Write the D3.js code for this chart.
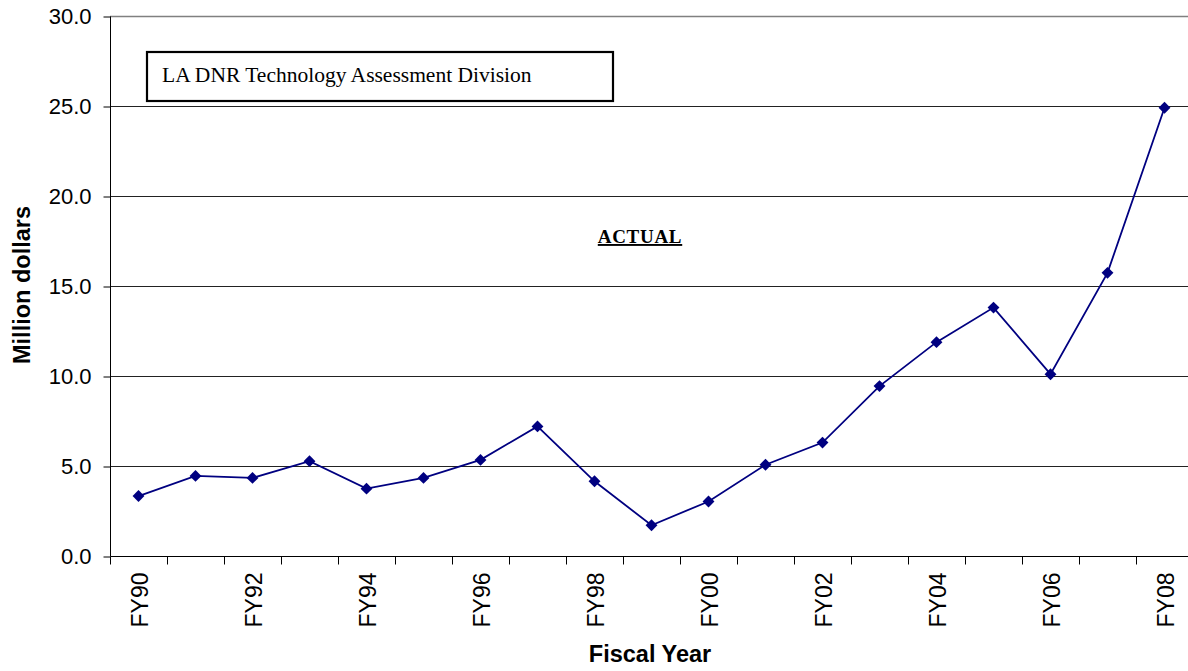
<!DOCTYPE html>
<html><head><meta charset="utf-8">
<script src="https://cdn.jsdelivr.net/npm/d3@7"></script>
<style>body{margin:0;background:#fff}svg{display:block}</style>
</head><body>
<svg id="c" width="1188" height="671"></svg>
<script>
const categories = ["FY90","FY91","FY92","FY93","FY94","FY95","FY96","FY97","FY98","FY99","FY00","FY01","FY02","FY03","FY04","FY05","FY06","FY07","FY08"];
const values = [3.33,4.45,4.34,5.27,3.74,4.34,5.34,7.2,4.15,1.71,3.03,5.07,6.3,9.44,11.88,13.8,10.1,15.73,24.9];
const yTicks = [0,5,10,15,20,25,30];
const labeledCategories = ["FY90","FY92","FY94","FY96","FY98","FY00","FY02","FY04","FY06","FY08"];

(function(){
const svg = d3.select("#c");
const pL = 110, pR = 1193, pT = 16, pB = 556;
const x = d3.scaleBand().domain(categories).range([pL, pR]);
const y = d3.scaleLinear().domain([0, 30]).range([pB, pT]);
const sans = "Liberation Sans, Arial, sans-serif";
const serif = "Liberation Serif, Times New Roman, serif";

// gridlines
svg.append("g").selectAll("line").data(yTicks.filter(d => d > 0)).join("line")
  .attr("x1", pL).attr("x2", pR)
  .attr("y1", d => y(d) + 0.5).attr("y2", d => y(d) + 0.5)
  .attr("stroke", d => d === 30 ? "#808080" : "#222").attr("stroke-width", d => d === 30 ? 1.5 : 1);

// y axis
const ya = svg.append("g").attr("transform", `translate(${pL + 0.5},0.5)`)
  .call(d3.axisLeft(y).tickValues(yTicks).tickFormat(d3.format(".1f")).tickSize(7).tickPadding(12));
ya.select(".domain").attr("stroke", "#000").attr("d", `M0,${pT}V${pB}`);
ya.selectAll(".tick line").attr("stroke", "#000");
ya.selectAll("text").attr("font-family", sans).attr("font-size", 22).attr("fill", "#000");

// x axis
const xa = svg.append("g").attr("transform", `translate(0.5,${pB + 0.5})`);
xa.append("line").attr("x1", pL).attr("x2", pR).attr("y1", 0).attr("y2", 0).attr("stroke", "#000");
const bounds = categories.map(c => Math.round(x(c))).concat([Math.round(x(categories[categories.length-1]) + x.bandwidth())]);
xa.selectAll(".tk").data(bounds).join("line").attr("class","tk")
  .attr("x1", d => d).attr("x2", d => d).attr("y1", 0).attr("y2", 8).attr("stroke", "#000");
xa.selectAll(".lbl").data(labeledCategories).join("text").attr("class","lbl")
  .attr("transform", d => `translate(${x(d) + x.bandwidth()/2 + 8.5},${16}) rotate(-90)`)
  .attr("text-anchor", "end")
  .attr("font-family", sans).attr("font-size", 23).attr("fill", "#000")
  .text(d => d);

// line
const cx = d => x(d) + x.bandwidth()/2;
svg.append("path").datum(values)
  .attr("d", d3.line().x((d,i) => cx(categories[i])).y(d => y(d)))
  .attr("fill", "none").attr("stroke", "#000080").attr("stroke-width", 1.8);
svg.append("g").selectAll("path").data(values).join("path")
  .attr("transform", (d,i) => `translate(${cx(categories[i])},${y(d)})`)
  .attr("d", d3.symbol(d3.symbolDiamond2, 90))
  .attr("fill", "#000080");

// axis titles
svg.append("text").attr("x", 650).attr("y", 662).attr("text-anchor", "middle")
  .attr("font-family", sans).attr("font-weight", "bold").attr("font-size", 23.5)
  .text("Fiscal Year");
svg.append("text").attr("transform", "translate(30,285) rotate(-90)").attr("text-anchor", "middle")
  .attr("font-family", sans).attr("font-weight", "bold").attr("font-size", 23.5)
  .text("Million dollars");

// source box
svg.append("rect").attr("x", 147).attr("y", 52).attr("width", 466).attr("height", 49)
  .attr("fill", "#fff").attr("stroke", "#000").attr("stroke-width", 2.2);
svg.append("text").attr("x", 162).attr("y", 82)
  .attr("font-family", serif).attr("font-size", 21.5)
  .text("LA DNR Technology Assessment Division");

// ACTUAL label
svg.append("text").attr("x", 640).attr("y", 243).attr("text-anchor", "middle")
  .attr("font-family", serif).attr("font-size", 19).attr("font-weight", "bold")
  .attr("letter-spacing", 0.7)
  .attr("text-decoration", "underline")
  .text("ACTUAL");
})();
</script>
</body></html>
